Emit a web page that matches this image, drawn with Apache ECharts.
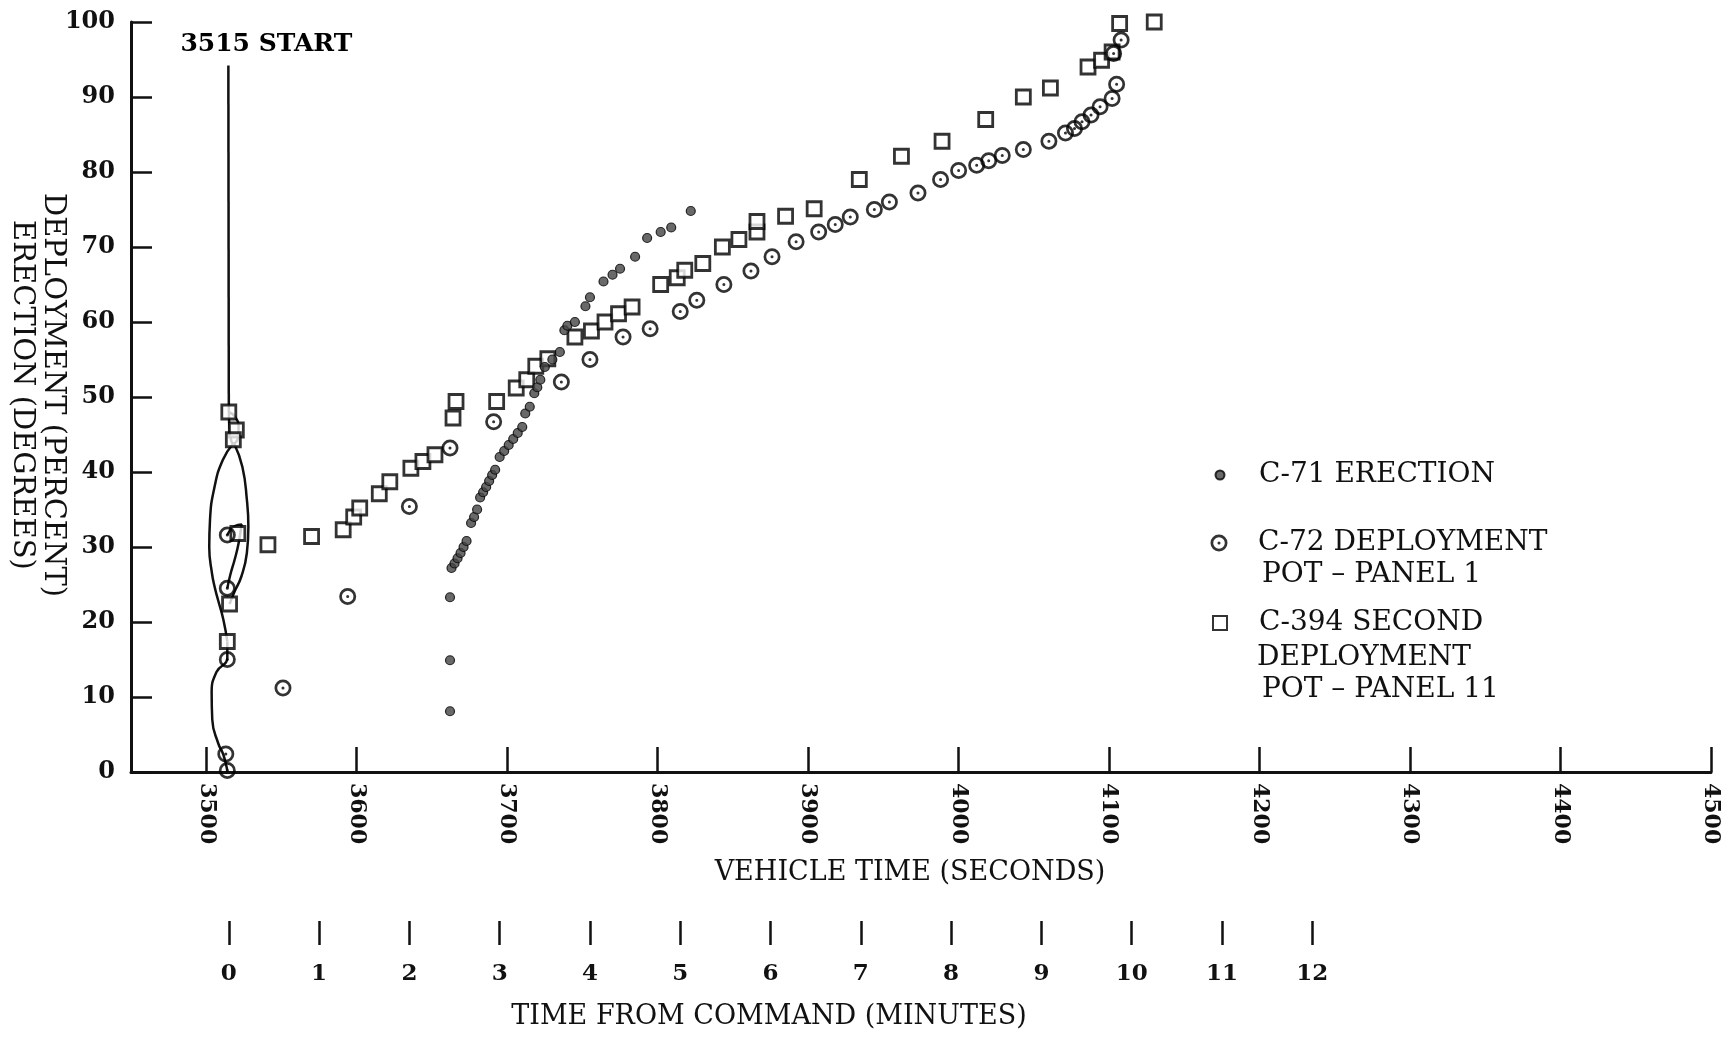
<!DOCTYPE html>
<html>
<head>
<meta charset="utf-8">
<script src="https://cdn.jsdelivr.net/npm/echarts@6/dist/echarts.min.js"></script>
<style>
html,body{margin:0;padding:0;background:#fff;}
#chart{width:1733px;height:1037px;}
</style>
</head>
<body>
<div id="chart"></div>
<script>
// ---- data (vehicle time in seconds, percent / degrees) ----
const commandTime = 3515;
const secondsTicks = [3500, 3600, 3700, 3800, 3900, 4000, 4100, 4200, 4300, 4400, 4500];
const minuteTicks = [0, 1, 2, 3, 4, 5, 6, 7, 8, 9, 10, 11, 12];

const c71Erection = [
  [3662, 8.1], [3662, 14.9], [3662, 23.3], [3663, 27.2], [3665, 27.8], [3667, 28.5], [3669, 29.2],
  [3671, 30.0], [3673, 30.8], [3676, 33.2], [3678, 34.0], [3680, 35.0], [3682, 36.6], [3684, 37.3],
  [3686, 38.0], [3688, 38.8], [3690, 39.6], [3692, 40.3], [3695, 42.0], [3698, 42.8], [3701, 43.6],
  [3704, 44.4], [3707, 45.2], [3710, 46.0], [3712, 47.8], [3715, 48.7], [3718, 50.5], [3720, 51.3],
  [3722, 52.3], [3725, 54.0], [3730, 55.0], [3735, 56.0], [3738, 58.9], [3740, 59.5], [3745, 60.0],
  [3752, 62.1], [3755, 63.3], [3764, 65.4], [3770, 66.3], [3775, 67.1], [3785, 68.7], [3793, 71.2],
  [3802, 72.0], [3809, 72.6], [3822, 74.8]
];

const c72Panel1 = [
  [3514, 0.2], [3513, 2.4], [3514, 15.0], [3514, 24.5], [3514, 31.6], [3551, 11.2], [3594, 23.4],
  [3635, 35.4], [3662, 43.2], [3691, 46.7], [3736, 52.0], [3755, 55.0], [3777, 58.0], [3795, 59.1],
  [3815, 61.4], [3826, 62.9], [3844, 65.0], [3862, 66.8], [3876, 68.7], [3892, 70.7], [3907, 72.0],
  [3918, 73.0], [3928, 74.0], [3944, 75.0], [3954, 76.0], [3973, 77.2], [3988, 79.0], [4000, 80.2],
  [4012, 80.9], [4020, 81.5], [4029, 82.2], [4043, 83.0], [4060, 84.1], [4071, 85.2], [4077, 85.8],
  [4082, 86.7], [4088, 87.6], [4094, 88.7], [4102, 89.8], [4105, 91.7], [4103, 95.8], [4108, 97.6]
];

const c394Panel11 = [
  [3515, 48.0], [3520, 45.6], [3518, 44.3], [3521, 31.8], [3515.5, 22.4], [3514, 17.4],
  [3541, 30.3], [3570, 31.4], [3591, 32.3], [3598, 34.0], [3602, 35.2], [3615, 37.1], [3622, 38.7],
  [3636, 40.5], [3644, 41.4], [3652, 42.3], [3664, 47.2], [3666, 49.4], [3693, 49.4], [3706, 51.2],
  [3713, 52.3], [3719, 54.1], [3727, 55.1], [3745, 58.0], [3756, 58.8], [3765, 60.0], [3774, 61.1],
  [3783, 62.0], [3802, 65.0], [3813, 65.9], [3818, 66.9], [3830, 67.8], [3843, 70.0], [3854, 71.0],
  [3866, 72.0], [3866, 73.4], [3885, 74.1], [3904, 75.1], [3934, 79.0], [3962, 82.1], [3989, 84.1],
  [4018, 87.0], [4043, 90.0], [4061, 91.2], [4086, 94.0], [4095, 94.9], [4102, 96.0], [4107, 99.8],
  [4130, 100.0]
];

// hand-drawn start trace near command time
const startLine = [[3514.7, 94.2], [3515, 48.0]];
const traceTop = [[3515, 48.0], [3519, 47.4], [3521.5, 46.0], [3521, 44.5], [3518, 43.8], [3516, 45.0], [3515, 48.0]];
const traceLeft = [[3518, 43.8], [3511, 41.6], [3505.5, 38.0], [3502.5, 33.6], [3502, 30.0], [3503.8, 26.5],
  [3505.8, 24.5], [3507.9, 22.9], [3511.4, 20.3], [3514, 17.4]];
const traceRight = [[3518.5, 43.8], [3524, 40.7], [3527, 36.3], [3528, 32.7], [3527, 29.2],
  [3523.4, 26.1], [3518.5, 23.9], [3515.5, 22.4]];
const traceInner = [[3514, 31.6], [3519, 32.8], [3523.5, 33.0], [3521.5, 30.5], [3519, 28.4], [3516, 26.3], [3514, 24.5]];
const traceBottom = [[3514, 17.4], [3514, 15.2], [3506.7, 13.3], [3503.6, 10.5], [3504, 7.0], [3508, 3.8],
  [3511.4, 2.3], [3514, 0.2]];

const startText = '3515 START';
const nameC71 = 'C-71 ERECTION';
const nameC72 = 'C-72 DEPLOYMENT POT \u2013 PANEL 1';
const nameC394 = 'C-394 SECOND DEPLOYMENT POT \u2013 PANEL 11';

// ---- chart ----
const FONT = 'DejaVu Serif';
const INK = '#111';
const ringDot = 'path://M10,0A10,10,0,1,1,-10,0A10,10,0,1,1,10,0ZM6.8,0A6.8,6.8,0,1,0,-6.8,0A6.8,6.8,0,1,0,6.8,0ZM1.8,0A1.8,1.8,0,1,1,-1.8,0A1.8,1.8,0,1,1,1.8,0Z';

const chart = echarts.init(document.getElementById('chart'), null, {renderer: 'canvas'});

function traceSeries(name, data) {
  return {
    name: name, type: 'line', data: data, smooth: 0.5, symbol: 'none', silent: true, z: 2,
    lineStyle: {color: INK, width: 2.5}
  };
}

// icon centre x = 1219, text starts at 1258
function legendFor(name, label, centerY, size) {
  return {
    data: [name], left: 1219 - size / 2, top: centerY - 15, orient: 'vertical', selectedMode: false,
    itemWidth: size, itemHeight: size, padding: 0,
    formatter: function () { return label; },
    textStyle: {fontFamily: FONT, fontSize: 28, color: INK, lineHeight: 30,
      padding: [0, 0, 0, 34 - size / 2]}
  };
}

function textEl(text, x, y, size, align) {
  return {
    type: 'text', x: x, y: y, silent: true,
    style: {text: text, font: size + 'px "' + FONT + '"', fill: INK, textAlign: align || 'left', textVerticalAlign: 'middle'}
  };
}

const option = {
  animation: false,
  backgroundColor: '#fff',
  grid: [
    {left: 131, right: 22, top: 22, bottom: 265, containLabel: false},
    {left: 131, right: 22, top: 900, height: 21, containLabel: false}
  ],
  xAxis: [
    {
      type: 'value', gridIndex: 0, min: 3450, max: 4500,
      axisLine: {show: true, onZero: false, lineStyle: {color: INK, width: 3}},
      axisTick: {show: true, inside: true, length: 25, customValues: secondsTicks, lineStyle: {color: INK, width: 2.5}},
      axisLabel: {show: true, rotate: -90, margin: 11, customValues: secondsTicks,
        formatter: function (v) { return String(v); },
        fontFamily: FONT, fontWeight: 'bold', fontSize: 22, color: INK},
      splitLine: {show: false}
    },
    {
      type: 'value', gridIndex: 1, position: 'bottom',
      min: (3450 - commandTime) / 60, max: (4500 - commandTime) / 60,
      axisLine: {show: false, onZero: false},
      axisTick: {show: true, inside: false, length: 24, customValues: minuteTicks, lineStyle: {color: INK, width: 2.5}},
      axisLabel: {show: true, margin: 42, customValues: minuteTicks,
        formatter: function (v) { return String(v); },
        fontFamily: FONT, fontWeight: 'bold', fontSize: 23, color: INK},
      splitLine: {show: false}
    }
  ],
  yAxis: [
    {
      type: 'value', gridIndex: 0, min: 0, max: 100, interval: 10,
      axisLine: {show: true, onZero: false, lineStyle: {color: INK, width: 3}},
      axisTick: {show: true, inside: true, length: 21, lineStyle: {color: INK, width: 2.5}},
      axisLabel: {show: true, margin: 16, fontFamily: FONT, fontWeight: 'bold', fontSize: 24, color: INK},
      splitLine: {show: false}
    },
    {type: 'value', gridIndex: 1, show: false, min: 0, max: 1}
  ],
  legend: [
    legendFor(nameC71, 'C-71 ERECTION', 475, 9),
    legendFor(nameC72, 'C-72 DEPLOYMENT', 543, 17),
    legendFor(nameC394, 'C-394 SECOND', 623, 14)
  ],
  series: [
    traceSeries('start', startLine),
    traceSeries('traceTop', traceTop),
    traceSeries('traceLeft', traceLeft),
    traceSeries('traceRight', traceRight),
    traceSeries('traceInner', traceInner),
    traceSeries('traceBottom', traceBottom),
    {
      name: 'startLabel', type: 'scatter', data: [startLine[0]], symbolSize: 0, silent: true, z: 5,
      itemStyle: {color: '#000', opacity: 1},
      label: {show: true, position: 'top', offset: [38, -4], formatter: startText,
        fontFamily: FONT, fontWeight: 'bold', fontSize: 25, color: '#000', opacity: 1, textBorderWidth: 0}
    },
    {
      name: nameC71, type: 'scatter', data: c71Erection, symbol: 'circle', symbolSize: 9, z: 4,
      symbolKeepAspect: true,
      itemStyle: {color: '#444', borderColor: '#000', borderWidth: 1.2}
    },
    {
      name: nameC72, type: 'scatter', data: c72Panel1, symbol: ringDot, symbolSize: 17, z: 4,
      symbolKeepAspect: true,
      itemStyle: {color: '#000'}
    },
    {
      name: nameC394, type: 'scatter', data: c394Panel11, symbol: 'rect', symbolSize: 14, z: 3,
      symbolKeepAspect: true,
      itemStyle: {color: '#fff', borderColor: '#000', borderWidth: 2.8}
    }
  ],
  graphic: [
    textEl('VEHICLE TIME (SECONDS)', 910, 873, 27, 'center'),
    textEl('TIME FROM COMMAND (MINUTES)', 769, 1017, 27, 'center'),
    {
      type: 'text', x: 37.5, y: 395, rotation: -Math.PI / 2, silent: true,
      style: {text: 'DEPLOYMENT (PERCENT)\nERECTION (DEGREES)', font: '29px "' + FONT + '"', fill: INK,
        textAlign: 'center', textVerticalAlign: 'middle', lineHeight: 31}
    },
    textEl('POT \u2013 PANEL 1', 1262, 575, 28),
    textEl('DEPLOYMENT', 1257, 658, 28),
    textEl('POT \u2013 PANEL 11', 1262, 690, 28)
  ]
};

chart.setOption(option);
</script>
</body>
</html>
